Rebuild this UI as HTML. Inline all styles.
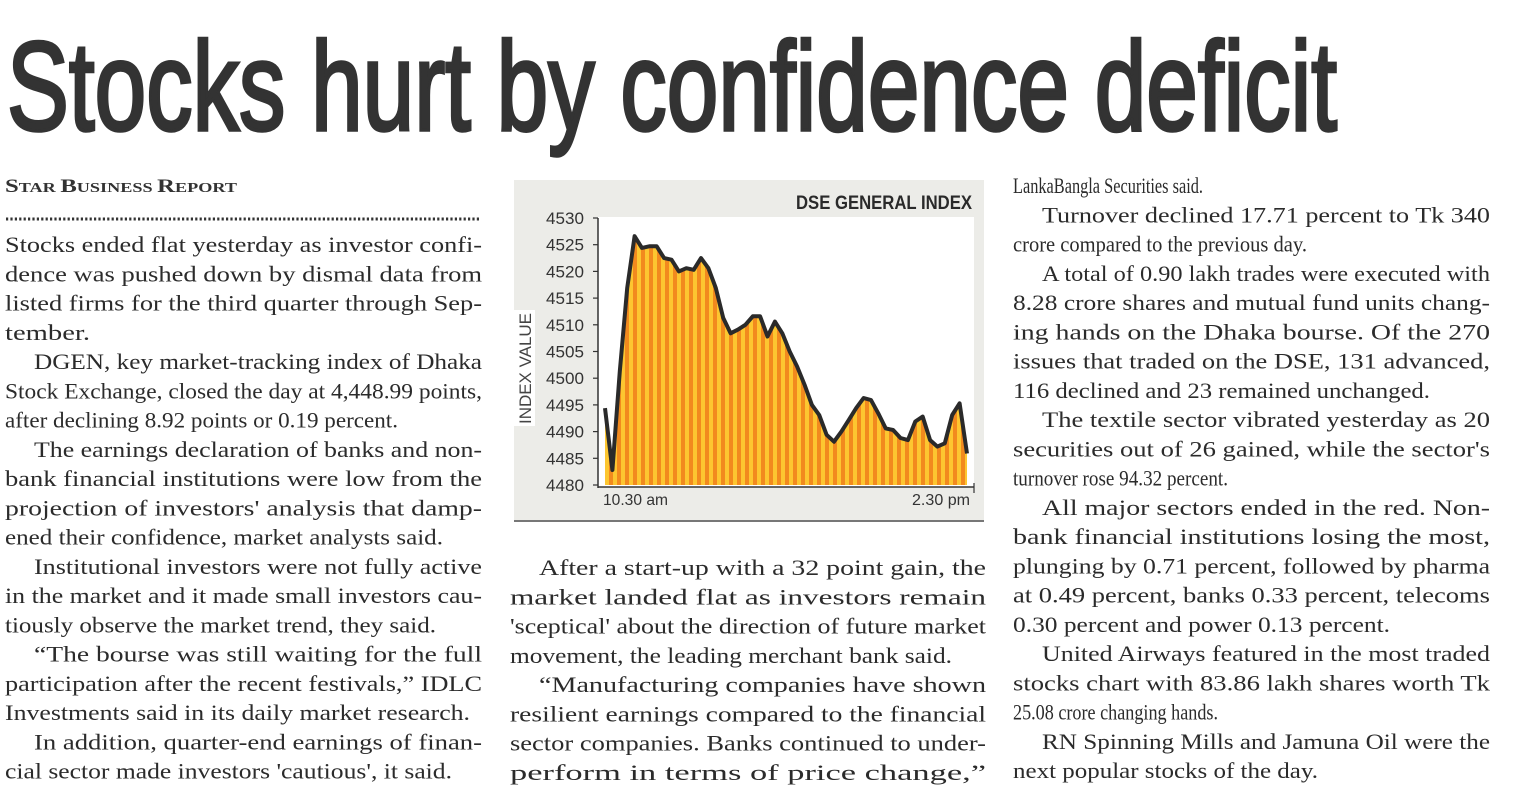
<!DOCTYPE html>
<html><head><meta charset="utf-8"><style>
html,body{margin:0;padding:0;background:#fff;}
svg{display:block;}
.b{font-family:"Liberation Serif",serif;font-size:22px;fill:#2b2b2b;}
.s{font-family:"Liberation Sans",sans-serif;}
</style></head><body>
<svg id="page" width="1517" height="786" viewBox="0 0 1517 786" xmlns="http://www.w3.org/2000/svg">
<defs>
<pattern id="stripes" patternUnits="userSpaceOnUse" width="8" height="10" x="601">
<rect width="4" height="10" fill="#f28a1e"/><rect x="4" width="4" height="10" fill="#fdc630"/>
</pattern>
</defs>
<rect width="1517" height="786" fill="#fff"/>
<text class="s" x="7" y="130" font-size="126" fill="#333" stroke="#333" stroke-width="3.5" textLength="1330" lengthAdjust="spacingAndGlyphs">Stocks hurt by confidence deficit</text>
<text x="5" y="192" font-family="Liberation Serif,serif" font-weight="bold" fill="#333" textLength="232" lengthAdjust="spacingAndGlyphs"><tspan font-size="19">S</tspan><tspan font-size="14">TAR </tspan><tspan font-size="19">B</tspan><tspan font-size="14">USINESS </tspan><tspan font-size="19">R</tspan><tspan font-size="14">EPORT</tspan></text>
<line x1="6" y1="219" x2="480" y2="219" stroke="#333" stroke-width="3" stroke-dasharray="2.2 2.2"/>
<g id="cols"></g>

<g id="chart">
<rect x="514" y="180" width="470" height="342" fill="#ecece8"/>
<line x1="514" y1="521" x2="984" y2="521" stroke="#777" stroke-width="2"/>
<rect x="598" y="217" width="376" height="270" fill="#fff"/>
<text class="s" x="796" y="209" font-size="19" font-weight="bold" fill="#2a2a2a" textLength="176" lengthAdjust="spacingAndGlyphs">DSE GENERAL INDEX</text>
<rect x="514" y="310" width="21" height="116" fill="#fff"/>
<text class="s" transform="translate(531,424) rotate(-90)" font-size="17" fill="#444" textLength="111" lengthAdjust="spacingAndGlyphs">INDEX VALUE</text>
</g>
</svg>
<script>
// ---- chart data ----
const yTicks = [4480,4485,4490,4495,4500,4505,4510,4515,4520,4525,4530];
const xLabels = ["10.30 am","2.30 pm"];
const values = [4494.4,4482.8,4501.3,4516.9,4526.6,4524.4,4524.7,4524.7,4522.5,4522.2,4520,4520.6,4520.3,4522.5,4520.6,4516.9,4511.3,4508.4,4509.1,4510,4511.6,4511.6,4507.8,4510.6,4508.4,4505,4502.2,4498.8,4495,4493.1,4489.4,4488.1,4490,4492.2,4494.4,4496.3,4495.9,4493.4,4490.6,4490.3,4488.8,4488.4,4491.9,4492.8,4488.4,4487.2,4487.8,4493.1,4495.3,4485.9];

const NS="http://www.w3.org/2000/svg";
const chart=document.getElementById('chart');
const yMin=4480,yMax=4530,py0=485,py1=218;
function yS(v){return py0-(v-yMin)/(yMax-yMin)*(py0-py1);}
function xS(i){return 605+i*(967-605)/(values.length-1);}
function mk(tag,attrs,parent){const e=document.createElementNS(NS,tag);for(const k in attrs)e.setAttribute(k,attrs[k]);(parent||chart).appendChild(e);return e;}

let d='M'+xS(0)+','+yS(yMin);
values.forEach((v,i)=>{d+=' L'+xS(i).toFixed(1)+','+yS(v).toFixed(1);});
d+=' L'+xS(values.length-1)+','+yS(yMin)+' Z';
const area=mk('path',{d:d,fill:'url(#stripes)'});


let ld='';
values.forEach((v,i)=>{ld+=(i?' L':'M')+xS(i).toFixed(1)+','+yS(v).toFixed(1);});
const line=mk('path',{d:ld,fill:'none',stroke:'#2a2a2a','stroke-width':4,'stroke-linejoin':'round'});



const ya=mk('line',{x1:598,y1:yS(yMax),x2:598,y2:yS(yMin)+3,stroke:'#333','stroke-width':1.5});


const xa=mk('line',{x1:598,y1:yS(yMin)+2,x2:974,y2:yS(yMin)+2,stroke:'#333','stroke-width':1.5});


yTicks.forEach(t=>{
  const tk=mk('line',{x1:593,y1:yS(t),x2:598,y2:yS(t),stroke:'#333','stroke-width':1.2});
  
  
  const tl=mk('text',{x:584,y:yS(t)+6,'text-anchor':'end','font-family':'Liberation Sans,sans-serif','font-size':17,fill:'#333',textLength:38,lengthAdjust:'spacingAndGlyphs'});
  tl.textContent=t;
  
  
});
[[xLabels[0],603,'start',65],[xLabels[1],970,'end',58]].forEach(a=>{
  const t=mk('text',{x:a[1],y:505,'text-anchor':a[2],'font-family':'Liberation Sans,sans-serif','font-size':16,fill:'#333',textLength:a[3],lengthAdjust:'spacingAndGlyphs'});
  t.textContent=a[0];
  
  
});
const xt=mk('line',{x1:974,y1:483,x2:974,y2:493,stroke:'#333','stroke-width':1.2});



// ---- article text ----
const cols=document.getElementById('cols');
const LH=29.25;
const colL=[["Stocks ended flat yesterday as investor confi-",0,0],["dence was pushed down by dismal data from",0,0],["listed firms for the third quarter through Sep-",0,0],["tember.",0,85],["DGEN, key market-tracking index of Dhaka",1,0],["Stock Exchange, closed the day at 4,448.99 points,",0,0],["after declining 8.92 points or 0.19 percent.",0,393],["The earnings declaration of banks and non-",1,0],["bank financial institutions were low from the",0,0],["projection of investors' analysis that damp-",0,0],["ened their confidence, market analysts said.",0,438],["Institutional investors were not fully active",1,0],["in the market and it made small investors cau-",0,0],["tiously observe the market trend, they said.",0,431],["“The bourse was still waiting for the full",1,0],["participation after the recent festivals,” IDLC",0,0],["Investments said in its daily market research.",0,465],["In addition, quarter-end earnings of finan-",1,0],["cial sector made investors 'cautious', it said.",0,447]];
const colM=[["After a start-up with a 32 point gain, the",1,0],["market landed flat as investors remain",0,0],["'sceptical' about the direction of future market",0,0],["movement, the leading merchant bank said.",0,442],["“Manufacturing companies have shown",1,0],["resilient earnings compared to the financial",0,0],["sector companies. Banks continued to under-",0,0],["perform in terms of price change,”",0,0]];
const colR=[["LankaBangla Securities said.",0,190],["Turnover declined 17.71 percent to Tk 340",1,0],["crore compared to the previous day.",0,294],["A total of 0.90 lakh trades were executed with",1,0],["8.28 crore shares and mutual fund units chang-",0,0],["ing hands on the Dhaka bourse. Of the 270",0,0],["issues that traded on the DSE, 131 advanced,",0,0],["116 declined and 23 remained unchanged.",0,417],["The textile sector vibrated yesterday as 20",1,0],["securities out of 26 gained, while the sector's",0,0],["turnover rose 94.32 percent.",0,215],["All major sectors ended in the red. Non-",1,0],["bank financial institutions losing the most,",0,0],["plunging by 0.71 percent, followed by pharma",0,0],["at 0.49 percent, banks 0.33 percent, telecoms",0,0],["0.30 percent and power 0.13 percent.",0,377],["United Airways featured in the most traded",1,0],["stocks chart with 83.86 lakh shares worth Tk",0,0],["25.08 crore changing hands.",0,205],["RN Spinning Mills and Jamuna Oil were the",1,0],["next popular stocks of the day.",0,305]];
function col(lines,x0,y0,w,name){
  lines.forEach((l,i)=>{
    const x=x0+(l[1]?29:0);
    const len=l[2]?l[2]:(x0+w-x);
    const t=document.createElementNS(NS,'text');
    t.setAttribute('class','b');
    t.setAttribute('x',x);
    t.setAttribute('y',(y0+i*LH).toFixed(1));
    t.setAttribute('textLength',len);
    t.setAttribute('lengthAdjust','spacingAndGlyphs');
    t.textContent=l[0];
    
    
    cols.appendChild(t);
  });
}
col(colL,5,252,477,'left-column');
col(colM,510,575,476,'middle-column');
col(colR,1013,193,477,'right-column');
</script>
</body></html>
